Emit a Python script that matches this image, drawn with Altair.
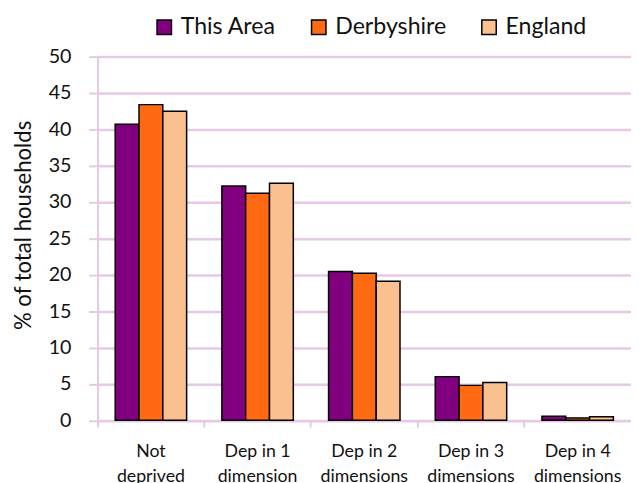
import altair as alt
import pandas as pd

categories = ["Not\ndeprived", "Dep in 1\ndimension", "Dep in 2\ndimensions",
              "Dep in 3\ndimensions", "Dep in 4\ndimensions"]
series = ["This Area", "Derbyshire", "England"]
this_area = [40.7, 32.2, 20.45, 6.0, 0.55]
derbyshire = [43.4, 31.2, 20.2, 4.8, 0.3]
england = [42.5, 32.6, 19.1, 5.2, 0.5]
colors = ["#800080", "#FF6A13", "#FAC090"]
y_ticks = [0, 5, 10, 15, 20, 25, 30, 35, 40, 45, 50]

rows = []
for name, vals in zip(series, [this_area, derbyshire, england]):
    for c, v in zip(categories, vals):
        rows.append({"category": c, "series": name, "value": v})
df = pd.DataFrame(rows)

FONT = "Lato"
GRID = "#E6C9E6"

chart = alt.Chart(df).mark_bar(stroke="black", strokeWidth=1.5).encode(
    x=alt.X("category:N", sort=categories,
            scale=alt.Scale(paddingInner=0, paddingOuter=0),
            axis=alt.Axis(title=None, bandPosition=0, labelAngle=0,
                          labelExpr="split(datum.label, '\\n')",
                          labelFontSize=18, labelLineHeight=25,
                          labelPadding=16, labelColor="#111111",
                          labelFont=FONT, labelOverlap=False, labelBound=False,
                          domainColor=GRID, domainWidth=2,
                          tickColor=GRID, tickWidth=2, tickSize=7,
                          grid=False)),
    xOffset=alt.XOffset("series:N", sort=series,
                        scale=alt.Scale(paddingInner=0, paddingOuter=0.74)),
    y=alt.Y("value:Q", scale=alt.Scale(domain=[0, 50], nice=False),
            axis=alt.Axis(title="% of total households", values=y_ticks,
                          labelFontSize=20, labelFont=FONT, labelColor="#111111",
                          labelPadding=18, tickSize=9, tickColor=GRID, tickWidth=2,
                          domainColor=GRID, domainWidth=2,
                          gridColor=GRID, gridWidth=2.5,
                          titleFont=FONT, titleFontSize=22.5, titleFontWeight="normal",
                          titleColor="#111111", titleAngle=270,
                          titleX=-75, titleY=171, titleAlign="center",
                          titleBaseline="middle")),
    color=alt.Color("series:N", sort=series,
                    scale=alt.Scale(domain=series, range=colors),
                    legend=alt.Legend(title=None, orient="none", direction="horizontal",
                                      legendX=56, legendY=-42,
                                      symbolType="square", symbolSize=215,
                                      symbolStrokeColor="black", symbolStrokeWidth=1.5,
                                      labelFont=FONT, labelFontSize=23.5,
                                      labelColor="#111111", labelOffset=5,
                                      columnPadding=31)),
).properties(
    width=542, height=369.5,
    autosize=alt.AutoSizeParams(type="none"),
    padding={"left": 91, "top": 45.5, "right": 0, "bottom": 70},
).configure_view(
    fill="#F6EAF6", stroke=None
).configure(background="white")

chart.save("out.html", embed_options={"renderer": "svg", "actions": False})
